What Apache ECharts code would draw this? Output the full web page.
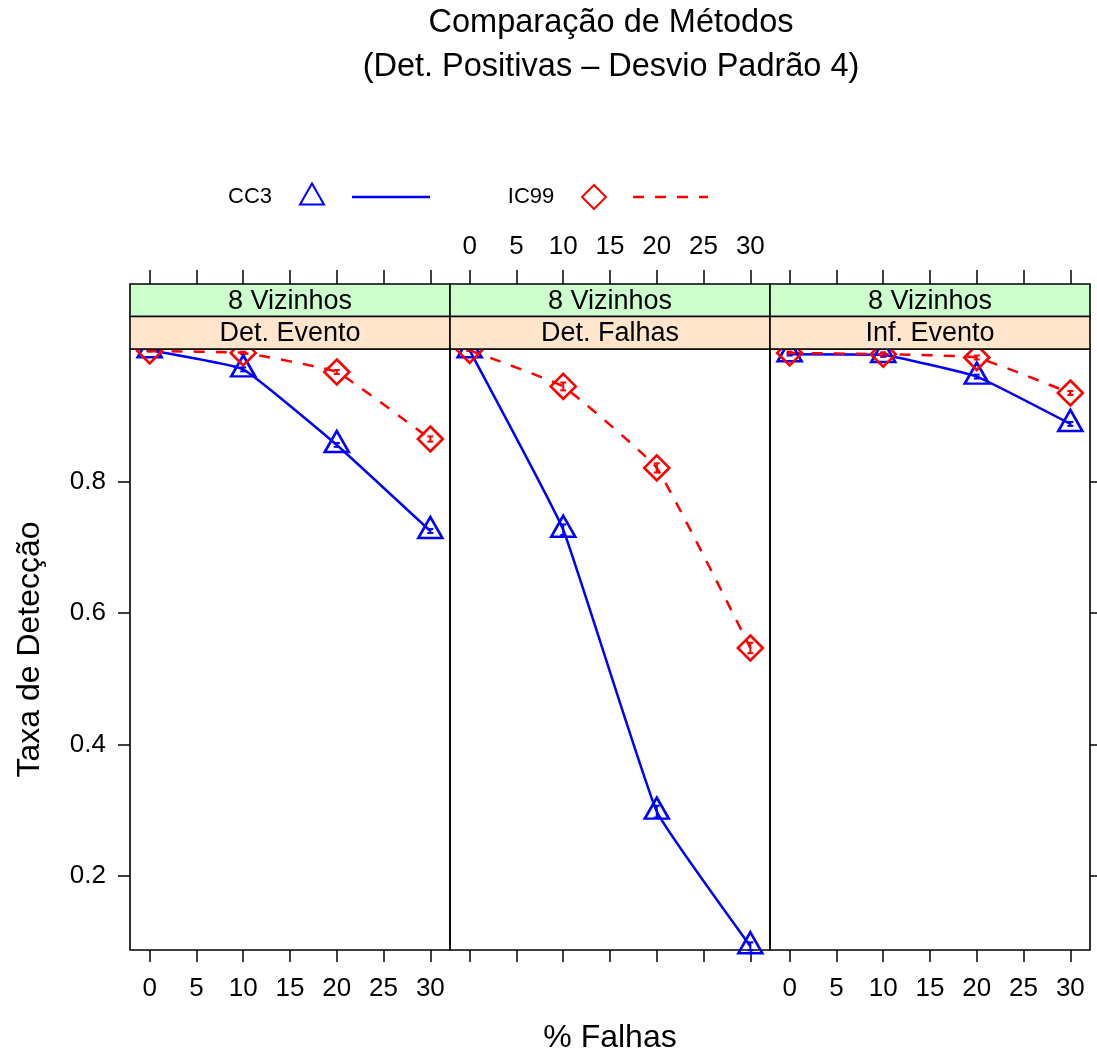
<!DOCTYPE html>
<html><head><meta charset="utf-8">
<script src="https://cdn.jsdelivr.net/npm/echarts@6/dist/echarts.min.js"></script>
<style>html,body{margin:0;padding:0;background:#fff}#c{width:1097px;height:1051px}</style>
</head><body><div id="c"></div>
<script>
// ---- data ----
const failPct = [0, 10, 20, 30];
const xTicks = [0, 5, 10, 15, 20, 25, 30];
const yTicks = [0.2, 0.4, 0.6, 0.8];
const panelNames = ['Det. Evento', 'Det. Falhas', 'Inf. Evento'];
const neighbourNames = ['8 Vizinhos', '8 Vizinhos', '8 Vizinhos'];
const methodNames = ['CC3', 'IC99'];
const titleLines = ['Comparação de Métodos', '(Det. Positivas – Desvio Padrão 4)'];
const xTitle = '% Falhas';
const yTitle = 'Taxa de Detecção';

const cc3DetEvento  = [1.000, 0.971, 0.856, 0.725];
const ic99DetEvento = [0.999, 0.996, 0.967, 0.865];
const cc3DetFalhas  = [1.000, 0.727, 0.298, 0.093];
const ic99DetFalhas = [1.000, 0.945, 0.821, 0.547];
const cc3InfEvento  = [0.994, 0.993, 0.960, 0.888];
const ic99InfEvento = [0.996, 0.994, 0.989, 0.935];

const cc3ErrDetEvento  = [0.001, 0.003, 0.003, 0.003];
const ic99ErrDetEvento = [0.001, 0.002, 0.003, 0.004];
const cc3ErrDetFalhas  = [0.001, 0.008, 0.009, 0.006];
const ic99ErrDetFalhas = [0.001, 0.006, 0.007, 0.008];
const cc3ErrInfEvento  = [0.002, 0.003, 0.003, 0.003];
const ic99ErrInfEvento = [0.002, 0.003, 0.003, 0.003];

// ---- layout ----
const FONT = '"Liberation Sans", Arial, Helvetica, sans-serif';
const BLUE = '#0000ff', RED = '#ff0000';
const gridLeft = [130, 450, 770], gridW = 320, gridTop = 349, gridH = 601;
const stripH = 32.5;
const xMin = -2.1, xMax = 32.1, yMin = 0.0874, yMax = 1.002;

const cc3Sets = [cc3DetEvento, cc3DetFalhas, cc3InfEvento];
const ic99Sets = [ic99DetEvento, ic99DetFalhas, ic99InfEvento];
const cc3Errs = [cc3ErrDetEvento, cc3ErrDetFalhas, cc3ErrInfEvento];
const ic99Errs = [ic99ErrDetEvento, ic99ErrDetFalhas, ic99ErrInfEvento];

const grids = [], xAxes = [], yAxes = [], series = [], graphics = [];

for (let i = 0; i < 3; i++) {
  grids.push({left: gridLeft[i], top: gridTop, width: gridW, height: gridH, outerBoundsMode: 'none', containLabel: false,
    show: true, borderColor: '#000', borderWidth: 1.6, backgroundColor: 'transparent'});
  // bottom axis
  xAxes.push({type: 'value', gridIndex: i, min: xMin, max: xMax, position: 'bottom',
    axisLine: {show: false, onZero: false}, splitLine: {show: false},
    axisTick: {show: true, inside: false, length: 12, lineStyle: {color: '#000', width: 1.5}, customValues: xTicks},
    axisLabel: {show: i !== 1, customValues: xTicks, margin: 26, fontSize: 26, fontFamily: FONT, color: '#000'},
    name: i === 1 ? xTitle : '', nameLocation: 'middle', nameGap: 72,
    nameTextStyle: {fontSize: 32, fontFamily: FONT, color: '#000'}
  });
  yAxes.push({type: 'value', gridIndex: i, min: yMin, max: yMax,
    position: i === 2 ? 'right' : 'left',
    axisLine: {show: false, onZero: false}, splitLine: {show: false},
    axisTick: {show: i !== 1, inside: false, length: i === 0 ? 12 : 8, lineStyle: {color: '#000', width: 1.5}, customValues: yTicks},
    axisLabel: {show: i === 0, customValues: yTicks, margin: 24, fontSize: 26, fontFamily: FONT, color: '#000',
      formatter: v => v.toFixed(1)},
    name: i === 0 ? yTitle : '', nameLocation: 'middle', nameGap: 84, nameRotate: 90,
    nameTextStyle: {fontSize: 32, fontFamily: FONT, color: '#000'}
  });
}
// top axes (above the strips)
for (let i = 0; i < 3; i++) {
  xAxes.push({type: 'value', gridIndex: i, min: xMin, max: xMax, position: 'top', offset: 2 * stripH,
    axisLine: {show: false, onZero: false}, splitLine: {show: false},
    axisTick: {show: true, inside: false, length: 14, lineStyle: {color: '#000', width: 1.5}, customValues: xTicks},
    axisLabel: {show: i === 1, customValues: xTicks, margin: 24, fontSize: 26, fontFamily: FONT, color: '#000'}
  });
}

function errSeries(i, xs, ys, es, color) {
  return {
    type: 'custom', xAxisIndex: i, yAxisIndex: i, z: 3, silent: true, clip: false,
    data: xs.map((x, k) => [x, ys[k], es[k]]),
    encode: {x: 0, y: 1},
    renderItem: (params, api) => {
      const x = api.value(0), y = api.value(1), e = api.value(2);
      const lo = api.coord([x, y - e]), hi = api.coord([x, y + e]);
      const w = 3;
      const st = {stroke: color, lineWidth: 2};
      return {type: 'group', children: [
        {type: 'line', shape: {x1: lo[0], y1: lo[1], x2: hi[0], y2: hi[1]}, style: st},
        {type: 'line', shape: {x1: lo[0] - w, y1: lo[1], x2: lo[0] + w, y2: lo[1]}, style: st},
        {type: 'line', shape: {x1: hi[0] - w, y1: hi[1], x2: hi[0] + w, y2: hi[1]}, style: st}
      ]};
    }
  };
}

for (let i = 0; i < 3; i++) {
  series.push({
    type: 'line', name: methodNames[0], xAxisIndex: i, yAxisIndex: i, z: 4,
    data: failPct.map((x, k) => [x, cc3Sets[i][k]]),
    smooth: 0.1, clip: false,
    symbol: 'triangle', symbolSize: [24, 21], symbolOffset: [0, -3.5], showAllSymbol: true,
    lineStyle: {color: BLUE, width: 2.5, type: 'solid'},
    itemStyle: {color: 'rgba(0,0,0,0)', borderColor: BLUE, borderWidth: 2.6},
    emphasis: {disabled: true}
  });
  series.push({
    type: 'line', name: methodNames[1], xAxisIndex: i, yAxisIndex: i, z: 4,
    data: failPct.map((x, k) => [x, ic99Sets[i][k]]),
    smooth: 0.1, clip: false,
    symbol: 'diamond', symbolSize: [25, 25], showAllSymbol: true,
    lineStyle: {color: RED, width: 2.5, type: [11, 11]},
    itemStyle: {color: 'rgba(0,0,0,0)', borderColor: RED, borderWidth: 2.6},
    emphasis: {disabled: true}
  });
  series.push(errSeries(i, failPct, cc3Sets[i], cc3Errs[i], BLUE));
  series.push(errSeries(i, failPct, ic99Sets[i], ic99Errs[i], RED));
}

// strips
for (let i = 0; i < 3; i++) {
  const x0 = gridLeft[i];
  graphics.push({type: 'rect', shape: {x: x0, y: gridTop - 2 * stripH, width: gridW, height: stripH},
    style: {fill: '#ccffcc', stroke: '#000', lineWidth: 1.6}, z: 10});
  graphics.push({type: 'rect', shape: {x: x0, y: gridTop - stripH, width: gridW, height: stripH},
    style: {fill: '#ffe5cc', stroke: '#000', lineWidth: 1.6}, z: 10});
  graphics.push({type: 'text', x: x0 + gridW / 2, y: gridTop - 1.5 * stripH + 1, z: 11,
    style: {text: neighbourNames[i], fontSize: 27, fontFamily: FONT, fill: '#000', align: 'center', verticalAlign: 'middle'}});
  graphics.push({type: 'text', x: x0 + gridW / 2, y: gridTop - 0.5 * stripH + 1, z: 11,
    style: {text: panelNames[i], fontSize: 27, fontFamily: FONT, fill: '#000', align: 'center', verticalAlign: 'middle'}});
}
// title
graphics.push({type: 'text', x: 611, y: 23, style: {text: titleLines[0], fontSize: 32.5, fontFamily: FONT, fill: '#000', align: 'center', verticalAlign: 'middle'}});
graphics.push({type: 'text', x: 611, y: 67, style: {text: titleLines[1], fontSize: 32.5, fontFamily: FONT, fill: '#000', align: 'center', verticalAlign: 'middle'}});
// legend
const LY = 197;
graphics.push({type: 'text', x: 250, y: LY, style: {text: methodNames[0], fontSize: 22, fontFamily: FONT, fill: '#000', align: 'center', verticalAlign: 'middle'}});
graphics.push({type: 'polygon', shape: {points: [[312, LY - 13.5], [324, LY + 7.5], [300, LY + 7.5]]}, style: {fill: 'none', stroke: BLUE, lineWidth: 2}});
graphics.push({type: 'line', shape: {x1: 352, y1: LY, x2: 430, y2: LY}, style: {stroke: BLUE, lineWidth: 2.5}});
graphics.push({type: 'text', x: 531, y: LY, style: {text: methodNames[1], fontSize: 22, fontFamily: FONT, fill: '#000', align: 'center', verticalAlign: 'middle'}});
graphics.push({type: 'polygon', shape: {points: [[594, LY - 12], [606, LY], [594, LY + 12], [582, LY]]}, style: {fill: 'none', stroke: RED, lineWidth: 2}});
graphics.push({type: 'line', shape: {x1: 633, y1: LY, x2: 708, y2: LY}, style: {stroke: RED, lineWidth: 2.5, lineDash: [11, 11]}});

const chart = echarts.init(document.getElementById('c'), null, {renderer: 'canvas'});
chart.setOption({
  backgroundColor: '#fff', animation: false,
  grid: grids, xAxis: xAxes, yAxis: yAxes, series: series, graphic: graphics
});
</script></body></html>
